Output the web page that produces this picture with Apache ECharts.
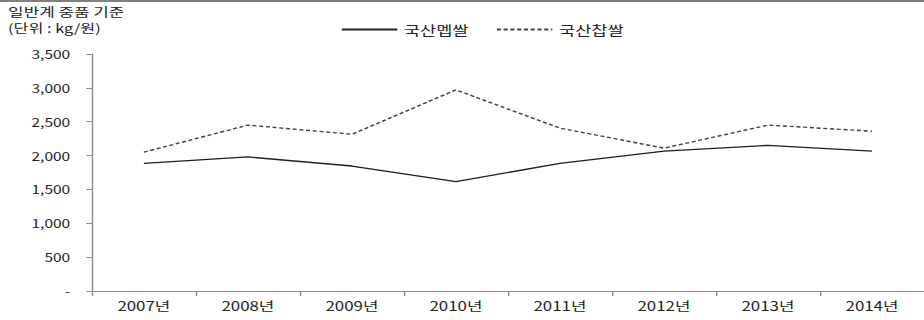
<!DOCTYPE html>
<html>
<head>
<meta charset="utf-8">
<script src="https://cdn.jsdelivr.net/npm/echarts@6/dist/echarts.min.js"></script>
<style>
  html, body { margin: 0; padding: 0; background: #fff; overflow: hidden; }
  #wrap { width: 924px; height: 320px; overflow: hidden; }
  #chart { width: 684px; height: 320px; transform: scaleX(1.3509); transform-origin: 0 0; }
</style>
</head>
<body>
<div id="wrap"><div id="chart"></div></div>
<script>
const categories = ['2007년', '2008년', '2009년', '2010년', '2011년', '2012년', '2013년', '2014년'];
const seriesNames = ['국산멥쌀', '국산찹쌀'];
const nonglutinous = [1885, 1980, 1845, 1615, 1885, 2065, 2150, 2065];
const glutinous = [2050, 2450, 2315, 2970, 2405, 2110, 2450, 2360];
const titleLines = ['일반계 중품 기준', '(단위 : kg/원)'];
const yTicks = { min: 0, max: 3500, interval: 500 };

const FONT = '"Noto Sans CJK KR", "Noto Sans", sans-serif';
const chart = echarts.init(document.getElementById('chart'), null, { renderer: 'svg' });

chart.setOption({
  animation: false,
  backgroundColor: '#ffffff',
  textStyle: { fontFamily: FONT },
  graphic: [
    { type: 'rect', left: 0, top: 0, shape: { width: 684, height: 2 }, style: { fill: '#808080' }, silent: true },
    { type: 'text', left: 6, top: 5, style: { text: titleLines[0], font: '12.5px ' + FONT, lineHeight: 13, fill: '#222' } },
    { type: 'text', left: 6, top: 21, style: { text: titleLines[1], font: '12px ' + FONT, lineHeight: 13, fill: '#222' } }
  ],
  legend: {
    left: 247,
    top: 18,
    itemWidth: 41,
    itemHeight: 14,
    itemGap: 20,
    itemStyle: { opacity: 0 },
    textStyle: { fontSize: 13, color: '#222', fontFamily: FONT },
    data: seriesNames
  },
  grid: { left: 68, right: 0, top: 54, bottom: 29, containLabel: false },
  xAxis: {
    type: 'category',
    data: categories,
    boundaryGap: true,
    axisLine: { lineStyle: { color: '#8a8a8a', width: 1 } },
    axisTick: { show: true, length: 5, lineStyle: { color: '#8a8a8a' } },
    axisLabel: { margin: 8, fontSize: 12.5, color: '#222', fontFamily: FONT }
  },
  yAxis: {
    type: 'value',
    min: yTicks.min,
    max: yTicks.max,
    interval: yTicks.interval,
    axisLine: { show: true, lineStyle: { color: '#8a8a8a', width: 1 } },
    axisTick: { show: true, length: 4, lineStyle: { color: '#8a8a8a' } },
    splitLine: { show: false },
    axisLabel: {
      margin: 16,
      fontSize: 11.5,
      color: '#222',
      fontFamily: FONT,
      formatter: v => v === 0 ? '-' : v.toLocaleString('en-US')
    }
  },
  series: [
    {
      name: seriesNames[0],
      type: 'line',
      data: nonglutinous,
      symbol: 'none',
      lineStyle: { color: '#1e1e1e', width: 1.4, type: 'solid' },
      itemStyle: { color: '#1e1e1e' }
    },
    {
      name: seriesNames[1],
      type: 'line',
      data: glutinous,
      symbol: 'none',
      lineStyle: { color: '#444', width: 1.4, type: [3, 2] },
      itemStyle: { color: '#444' }
    }
  ]
});
</script>
</body>
</html>
